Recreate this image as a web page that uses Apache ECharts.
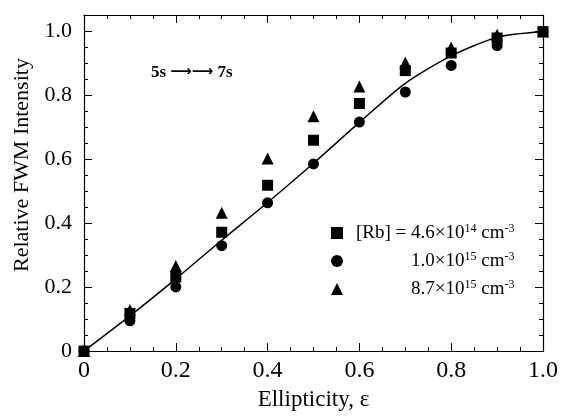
<!DOCTYPE html>
<html>
<head>
<meta charset="utf-8">
<script src="https://cdn.jsdelivr.net/npm/echarts@6/dist/echarts.min.js"></script>
<style>html,body{margin:0;padding:0;background:#fff}#c{width:561px;height:416px}</style>
</head>
<body>
<div id="c"></div>
<script>
var xValues = [0, 0.1, 0.2, 0.3, 0.4, 0.5, 0.6, 0.7, 0.8, 0.9, 1.0];
var rb46e14 = [0, 0.118, 0.232, 0.372, 0.519, 0.660, 0.775, 0.878, 0.933, 0.980, 1.0];
var rb10e15 = [0, 0.095, 0.201, 0.330, 0.464, 0.586, 0.717, 0.811, 0.894, 0.956, 1.0];
var rb87e15 = [0, 0.129, 0.266, 0.433, 0.603, 0.735, 0.828, 0.903, 0.950, 0.990, 1.0];
var fitCurve = [0, 0.110, 0.226, 0.347, 0.465, 0.588, 0.716, 0.838, 0.924, 0.982, 1.0];
var seriesNames = ['4.6e14', '1.0e15', '8.7e15'];
var xTickLabels = ['0', '0.2', '0.4', '0.6', '0.8', '1.0'];
var yTickLabels = ['0', '0.2', '0.4', '0.6', '0.8', '1.0'];

function pairs(xs, ys) { return xs.map(function (x, i) { return [x, ys[i]]; }); }
function tickFmt(labels) {
  return function (v) {
    var idx = Math.round(v / 0.2);
    if (Math.abs(v - idx * 0.2) > 1e-6) return '';
    return labels[idx] !== undefined ? labels[idx] : '';
  };
}
var serif = 'Liberation Serif, Times New Roman, serif';
var chart = echarts.init(document.getElementById('c'), null, {renderer: 'canvas'});
var baseAxis = {
  axisLine: {show: true, onZero: false, lineStyle: {color: '#000', width: 1.2}},
  axisTick: {show: true, inside: true, length: 8, lineStyle: {color: '#000', width: 1}},
  minorTick: {show: true, splitNumber: 4, length: 4, lineStyle: {color: '#000', width: 1}},
  splitLine: {show: false}
};
function ax(o) { return Object.assign({}, JSON.parse(JSON.stringify(baseAxis)), o); }

chart.setOption({
  animation: false,
  backgroundColor: '#fff',
  grid: {left: 84, right: 17, top: 15, bottom: 61},
  xAxis: [
    ax({type: 'value', position: 'bottom', min: 0, max: 1.0, interval: 0.2,
      axisLabel: {formatter: tickFmt(xTickLabels), color: '#000', fontFamily: serif, fontSize: 24, margin: 8},
      name: 'Ellipticity, ε', nameLocation: 'middle', nameGap: 31,
      nameTextStyle: {color: '#000', fontFamily: serif, fontSize: 23}}),
    ax({type: 'value', position: 'top', min: 0, max: 1.0, interval: 0.2, axisLabel: {show: false}})
  ],
  yAxis: [
    ax({type: 'value', position: 'left', min: 0, max: 1.052, interval: 0.2,
      axisLabel: {formatter: tickFmt(yTickLabels), color: '#000', fontFamily: serif, fontSize: 22, margin: 12},
      name: 'Relative FWM Intensity', nameLocation: 'middle', nameGap: 49,
      nameTextStyle: {color: '#000', fontFamily: serif, fontSize: 22, padding: [0, 0, 0, 36]}}),
    ax({type: 'value', position: 'right', min: 0, max: 1.052, interval: 0.2, axisLabel: {show: false}})
  ],
  legend: {
    left: 326, top: 218, orient: 'vertical', itemGap: 8,
    itemWidth: 12, itemHeight: 12,
    data: [
      {name: seriesNames[0], icon: 'rect'},
      {name: seriesNames[1], icon: 'circle'},
      {name: seriesNames[2], icon: 'triangle'}
    ],
    formatter: function (n) {
      if (n === seriesNames[0]) return '{a|[Rb] = 4.6×10}{s|14}{a| cm}{s|-3}';
      if (n === seriesNames[1]) return '{sp|}{a|1.0×10}{s|15}{a| cm}{s|-3}';
      return '{sp|}{a|8.7×10}{s|15}{a| cm}{s|-3}';
    },
    textStyle: {
      padding: [0, 0, 0, 8],
      rich: {
        a: {fontFamily: serif, fontSize: 19, color: '#000', lineHeight: 20, verticalAlign: 'bottom'},
        s: {fontFamily: serif, fontSize: 12, color: '#000', lineHeight: 20, verticalAlign: 'top'},
        sp: {width: 55}
      }
    }
  },
  graphic: [{
    type: 'text', left: 151, top: 64,
    style: {
      text: '{t|5s }{r|⟶⟶}{t| 7s}',
      rich: {
        t: {fontFamily: serif, fontSize: 17, fontWeight: 'bold', fill: '#000', lineHeight: 22},
        r: {fontFamily: 'DejaVu Sans', fontSize: 15, fontWeight: 'bold', fill: '#000', lineHeight: 22}
      }
    }
  }],
  series: [
    {type: 'line', name: 'fit', data: pairs(xValues, fitCurve), smooth: 0.25, showSymbol: false,
      lineStyle: {color: '#000', width: 1.5}, z: 1},
    {type: 'scatter', name: seriesNames[0], data: pairs(xValues, rb46e14), symbol: 'rect', symbolSize: 11,
      itemStyle: {color: '#000', opacity: 1}, clip: false, z: 3},
    {type: 'scatter', name: seriesNames[1], data: pairs(xValues, rb10e15), symbol: 'circle', symbolSize: 11,
      itemStyle: {color: '#000', opacity: 1}, clip: false, z: 3},
    {type: 'scatter', name: seriesNames[2], data: pairs(xValues, rb87e15), symbol: 'triangle', symbolSize: 12,
      itemStyle: {color: '#000', opacity: 1}, clip: false, z: 3}
  ]
});
</script>
</body>
</html>
